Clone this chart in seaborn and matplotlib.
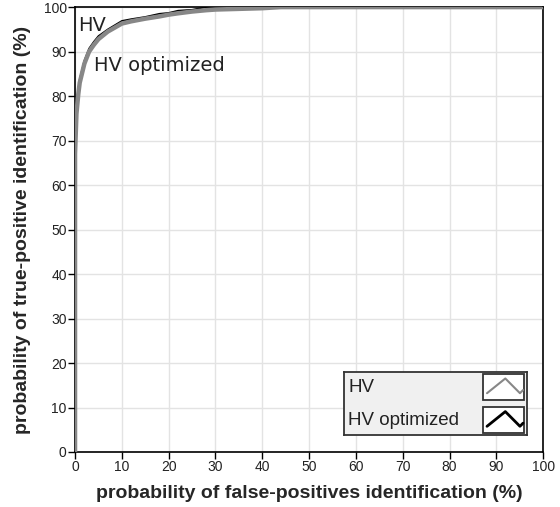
import matplotlib
matplotlib.use("Agg")
import matplotlib.pyplot as plt
import pandas as pd
import seaborn as sns
from matplotlib.patches import Rectangle

# ROC curves (percent)
fpr_hv = [0, 0, 0.3, 0.7, 1, 2, 3, 4, 5, 7, 10, 12, 15, 18, 20, 22, 25, 28, 30, 35, 40, 44, 100]
tpr_hv = [0, 67, 76, 80.5, 83, 87.3, 90, 91.5, 92.8, 94.5, 96.3, 96.8, 97.4, 97.9, 98.3,
          98.6, 99.0, 99.3, 99.45, 99.6, 99.75, 100, 100]
fpr_opt = [0, 0, 0.3, 0.7, 1, 2, 3, 4, 5, 7, 10, 12, 15, 18, 20, 22, 25, 28, 100]
tpr_opt = [0, 67.5, 77, 81.2, 83.8, 88, 90.7, 92.2, 93.5, 95, 96.9, 97.3, 97.8, 98.5,
           98.7, 99.2, 99.4, 100, 100]
series_names = ["HV", "HV optimized"]
series_colors = ["#878787", "black"]
ticks = list(range(0, 101, 10))

sns.set_theme(style="whitegrid")
plt.rcParams["font.family"] = ["Liberation Sans", "DejaVu Sans"]

df = pd.concat([
    pd.DataFrame({"fpr": fpr_hv, "tpr": tpr_hv, "series": series_names[0]}),
    pd.DataFrame({"fpr": fpr_opt, "tpr": tpr_opt, "series": series_names[1]}),
])

fig = plt.figure(figsize=(5.6, 5.07), dpi=100)
ax = fig.add_axes([0.134, 0.1085, 0.836, 0.8775])

# optimized curve sits underneath, peeking out above the thick grey one
sns.lineplot(data=df[df.series == series_names[1]], x="fpr", y="tpr", sort=False,
             color=series_colors[1], lw=1.2, ax=ax, estimator=None, zorder=2)
sns.lineplot(data=df[df.series == series_names[0]], x="fpr", y="tpr", sort=False,
             color=series_colors[0], lw=3.2, ax=ax, estimator=None, zorder=3)

ax.set_xlim(0, 100)
ax.set_ylim(0, 100)
ax.set_xticks(ticks)
ax.set_yticks(ticks)
ax.grid(color="#e3e3e3", lw=1)
for s in ax.spines.values():
    s.set_color("black")
    s.set_linewidth(1.2)
ax.tick_params(axis="both", which="major", length=5, width=1, color="black",
               labelsize=10, labelcolor="#222222", pad=1, direction="out",
               bottom=True, left=True)

ax.set_xlabel("probability of false-positives identification (%)",
              fontsize=14, fontweight="bold")
ax.set_ylabel("probability of true-positive identification (%)",
              fontsize=14, fontweight="bold")
ax.xaxis.set_label_coords(0.5, -0.074)
ax.yaxis.set_label_coords(-0.094, 0.5)

ax.text(0.6, 94.6, "HV", fontsize=14, color="#222222", family="DejaVu Sans",
        ha="left", va="baseline")
ax.text(4.1, 85.6, "HV optimized", fontsize=14, color="#222222",
        family="DejaVu Sans", ha="left", va="baseline")

# legend drawn as a small framed panel with caret icons
lax = ax.inset_axes([0.575, 0.038, 0.391, 0.142], zorder=5)
lax.set_facecolor("#f0f0f0")
lax.set_xlim(0, 1)
lax.set_ylim(0, 1)
lax.set_xticks([])
lax.set_yticks([])
lax.grid(False)
for s in lax.spines.values():
    s.set_color("#333333")
    s.set_linewidth(1.3)

for name, color, base, y0 in zip(series_names, series_colors, [0.68, 0.16], [0.556, 0.032]):
    lax.text(0.022, base, name, fontsize=13.5, color="#222222", va="baseline", ha="left")
    lax.add_patch(Rectangle((0.76, y0), 0.224, 0.412, facecolor="white",
                            edgecolor="#333333", lw=1.3))
    lax.plot([0.78, 0.88, 0.96, 0.977],
             [y0 + 0.107, y0 + 0.34, y0 + 0.107, y0 + 0.157],
             color=color, lw=1.5 if color != "black" else 2)

fig.savefig("out.png", dpi=100)
